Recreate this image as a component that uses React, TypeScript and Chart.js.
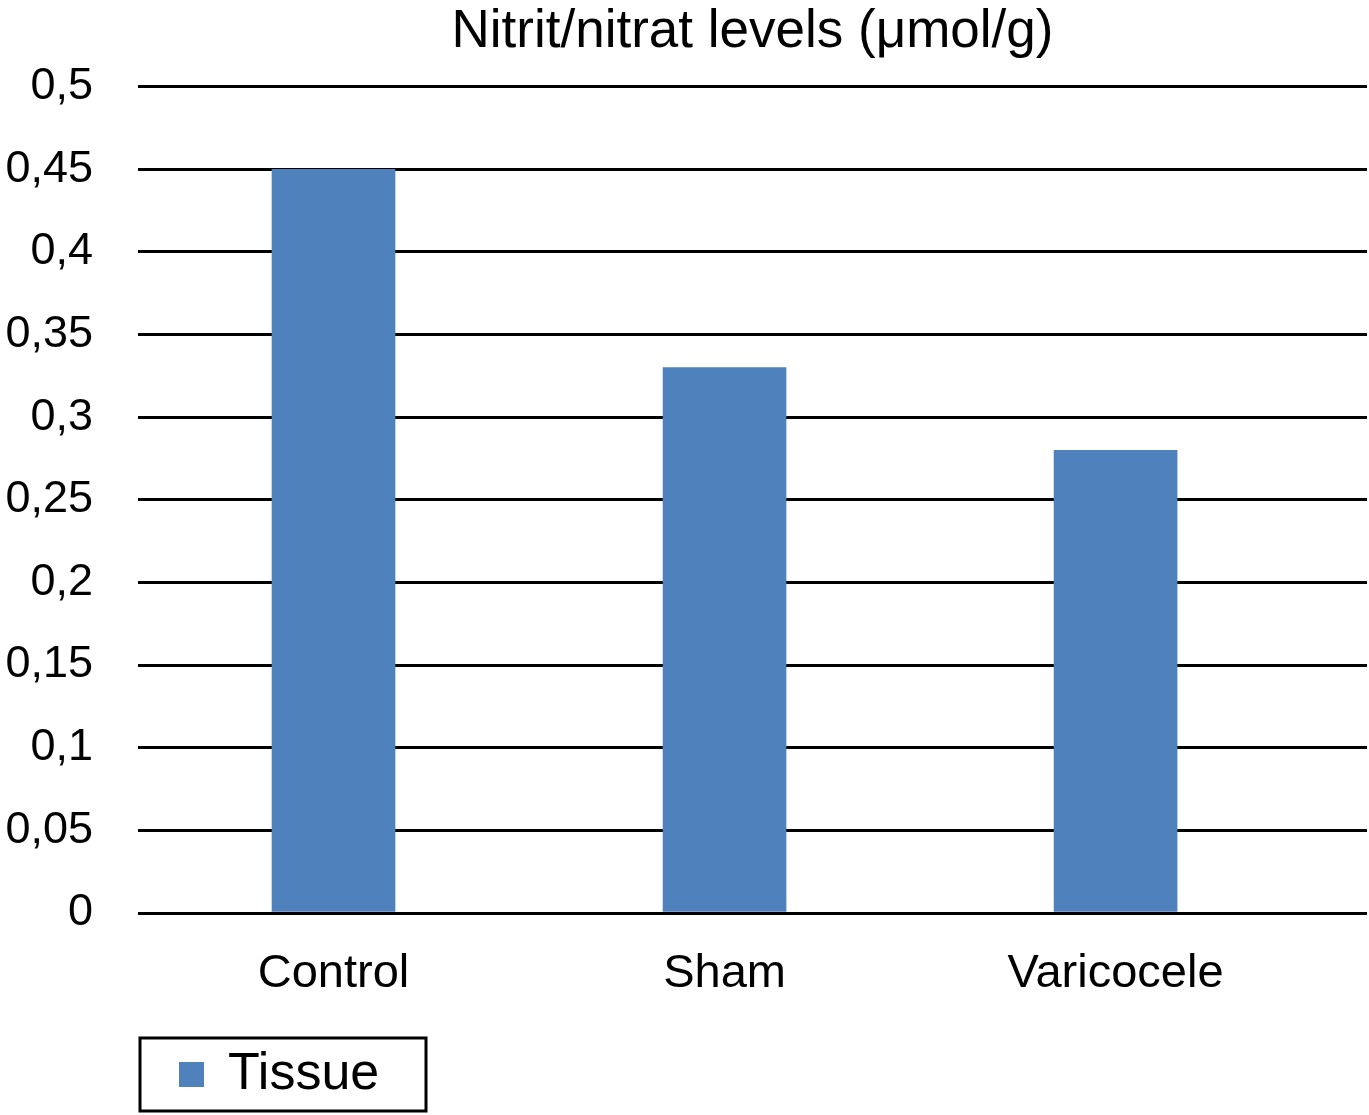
import React, { useEffect, useRef } from "react";
import { Chart, registerables } from "chart.js";

Chart.register(...registerables);

const titleText = "Nitrit/nitrat levels (μmol/g)";
const categories = ["Control", "Sham", "Varicocele"];
const seriesLabel = "Tissue";
const tissueValues = [0.45, 0.33, 0.28];
const yTickValues = [0, 0.05, 0.1, 0.15, 0.2, 0.25, 0.3, 0.35, 0.4, 0.45, 0.5];
const yTickLabels = ["0", "0,05", "0,1", "0,15", "0,2", "0,25", "0,3", "0,35", "0,4", "0,45", "0,5"];

const FONT = "'Liberation Sans', Arial, Helvetica, sans-serif";
const BAR_COLOR = "#4F81BD";

const boxedLegend = {
  id: "boxedLegend",
  afterDraw(chart: any) {
    const ctx = chart.ctx;
    const area = chart.chartArea;
    const ds = chart.data.datasets[0];
    ctx.save();
    const left = area.left + 2;
    const top = 1038;
    ctx.lineWidth = 3;
    ctx.strokeStyle = "#000";
    ctx.strokeRect(left, top, 286, 73);
    ctx.fillStyle = ds.backgroundColor;
    ctx.fillRect(left + 39, top + 24, 25, 25);
    ctx.fillStyle = "#000";
    ctx.font = `52px ${FONT}`;
    ctx.textBaseline = "middle";
    ctx.textAlign = "left";
    ctx.fillText(ds.label, left + 88, top + 37);
    ctx.restore();
  },
};

export default function App() {
  const ref = useRef<HTMLCanvasElement>(null);
  useEffect(() => {
    if (!ref.current) return;
    const chart = new Chart(ref.current, {
      type: "bar",
      data: {
        datasets: [
          {
            label: seriesLabel,
            data: tissueValues.map((v, i) => ({ x: i, y: v })),
            backgroundColor: BAR_COLOR,
            borderWidth: 0,
            barThickness: 123,
          },
        ],
      },
      options: {
        responsive: false,
        animation: false,
        layout: { padding: { left: 0, right: 2, top: 0, bottom: 0 } },
        plugins: {
          legend: { display: false },
          tooltip: { enabled: false },
          title: {
            display: true,
            text: titleText,
            fullSize: false,
            color: "#000",
            font: { family: FONT, size: 53, weight: "normal" },
            padding: { top: 1, bottom: 22 },
          },
        },
        scales: {
          x: {
            type: "linear",
            min: -0.5,
            max: 2.643,
            offset: false,
            grid: { display: false, offset: false },
            border: { display: false },
            afterBuildTicks: (scale: any) => {
              scale.ticks = categories.map((_, i) => ({ value: i }));
            },
            afterFit: (scale: any) => {
              scale.height = 202;
            },
            ticks: {
              color: "#000",
              font: { family: FONT, size: 47 },
              padding: 25,
              maxRotation: 0,
              autoSkip: false,
              callback: (value: any) => categories[value] ?? "",
            },
          },
          y: {
            min: 0,
            max: 0.5,
            grid: { color: "#000", lineWidth: 3, drawTicks: false },
            border: { display: false },
            afterBuildTicks: (scale: any) => {
              scale.ticks = yTickValues.map((v) => ({ value: v }));
            },
            afterFit: (scale: any) => {
              scale.width = 138;
            },
            ticks: {
              color: "#000",
              font: { family: FONT, size: 45 },
              padding: 45,
              autoSkip: false,
              callback: (_v: any, i: number) => yTickLabels[i],
            },
          },
        },
      },
      plugins: [boxedLegend],
    });
    return () => chart.destroy();
  }, []);
  return (
    <div style={{ position: "absolute", left: 0, top: 0, width: 1369, height: 1115, background: "#fff" }}>
      <canvas ref={ref} width={1369} height={1115} style={{ display: "block" }} />
    </div>
  );
}
